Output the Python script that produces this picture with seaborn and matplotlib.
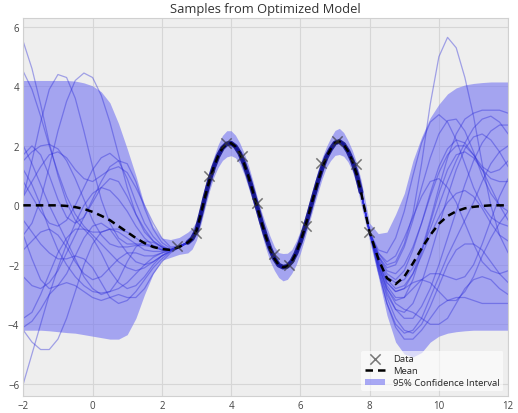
import matplotlib
matplotlib.use("Agg")
import matplotlib.pyplot as plt
import seaborn as sns
import numpy as np
import pandas as pd

# ---------------- data ----------------
x_left = [-2, -1.75, -1.5, -1.25, -1, -0.75, -0.5, -0.25, 0, 0.25, 0.5, 0.75,
          1, 1.25, 1.5, 1.75, 2, 2.25, 2.5, 2.75]
x_mid = [2.75, 2.875, 3.0, 3.125, 3.25, 3.375, 3.5, 3.625, 3.75, 3.875, 4.0,
         4.125, 4.25, 4.375, 4.5, 4.625, 4.75, 4.875, 5.0, 5.125, 5.25, 5.375,
         5.5, 5.625, 5.75, 5.875, 6.0, 6.125, 6.25, 6.375, 6.5, 6.625, 6.75,
         6.875, 7.0, 7.125, 7.25, 7.375, 7.5, 7.625, 7.75]
x_right = [7.75, 8.0, 8.25, 8.5, 8.75, 9.0, 9.25, 9.5, 9.75, 10.0, 10.25, 10.5,
           10.75, 11.0, 11.25, 11.5, 11.75, 12.0]

mean_left = [0, 0, 0, 0, 0, -0.02, -0.06, -0.12, -0.22, -0.35, -0.5, -0.7,
             -0.9, -1.1, -1.27, -1.4, -1.47, -1.5, -1.4, -1.25]
mean_mid = [-1.25, -1.12, -0.85, -0.3, 0.3, 0.84, 1.29, 1.66, 1.93, 2.07, 2.09,
            1.98, 1.75, 1.4, 0.97, 0.48, -0.04, -0.56, -1.04, -1.46, -1.79,
            -2.01, -2.08, -2.05, -1.89, -1.61, -1.23, -0.77, -0.26, 0.27, 0.78,
            1.24, 1.62, 1.89, 2.1, 2.15, 2.05, 1.82, 1.5, 1.05, 0.45]
mean_right = [0.45, -0.9, -1.8, -2.45, -2.65, -2.4, -1.95, -1.45, -1.0, -0.62,
              -0.36, -0.2, -0.1, -0.05, -0.02, 0, 0, 0]

upper_left = [4.2, 4.2, 4.2, 4.2, 4.2, 4.2, 4.18, 4.12, 4.02, 3.82, 3.45, 2.75,
              1.9, 1.0, 0.0, -0.7, -1.1, -1.15, -1.08, -0.9]
lower_left = [-4.2, -4.2, -4.2, -4.22, -4.25, -4.28, -4.3, -4.35, -4.4, -4.45,
              -4.5, -4.5, -4.35, -3.8, -3.0, -2.3, -1.85, -1.75, -1.65, -1.6]
halfwidth_mid = [0.35, 0.35, 0.32, 0.35, 0.38, 0.36, 0.34, 0.38, 0.42, 0.44,
                 0.42, 0.38, 0.35, 0.36, 0.38, 0.36, 0.33, 0.36, 0.4, 0.42,
                 0.4, 0.42, 0.46, 0.44, 0.4, 0.4, 0.38, 0.36, 0.35, 0.36,
                 0.38, 0.36, 0.35, 0.38, 0.42, 0.44, 0.4, 0.36, 0.35, 0.38, 0.42]
upper_right = [0.9, -0.6, -0.95, -0.9, -0.3, 0.4, 1.5, 2.3, 2.95, 3.4, 3.75,
               3.95, 4.05, 4.1, 4.13, 4.15, 4.15, 4.15]
lower_right = [0.0, -1.2, -2.4, -3.7, -4.6, -5.0, -5.1, -4.95, -4.6, -4.4, -4.3,
               -4.25, -4.22, -4.2, -4.2, -4.2, -4.2, -4.2]

data_x = [2.45, 2.98, 3.36, 3.85, 4.31, 4.74, 5.23, 5.67, 6.16, 6.59, 7.05, 7.6, 7.97]
data_y = [-1.38, -0.94, 0.98, 2.09, 1.65, 0.07, -1.62, -1.99, -0.71, 1.41, 2.15, 1.38, -0.88]

samples_left = [
    [5.5, 4.6, 3.4, 2.1, 1.0, 0.1, -0.5, -0.8, -0.9, -0.9, -0.8, -0.8, -0.9, -1.1, -1.3, -1.4, -1.5, -1.5, -1.38, -1.25],
    [4.5, 3.9, 3.0, 2.0, 1.1, 0.3, -0.3, -0.7, -1.0, -1.3, -1.6, -1.9, -2.1, -2.2, -2.1, -1.9, -1.7, -1.55, -1.42, -1.25],
    [0.3, 1.5, 2.8, 3.9, 4.4, 4.3, 3.6, 2.5, 1.3, 0.2, -0.6, -1.1, -1.3, -1.3, -1.3, -1.35, -1.45, -1.5, -1.38, -1.25],
    [-1.0, -0.6, 0.2, 1.3, 2.5, 3.5, 4.2, 4.45, 4.3, 3.7, 2.8, 1.7, 0.6, -0.3, -0.9, -1.2, -1.4, -1.5, -1.38, -1.25],
    [-6.0, -5.0, -4.0, -3.0, -2.1, -1.3, -0.6, 0.0, 0.4, 0.6, 0.5, 0.2, -0.2, -0.7, -1.1, -1.35, -1.5, -1.5, -1.38, -1.25],
    [-4.2, -4.6, -4.85, -4.85, -4.5, -3.8, -2.9, -2.0, -1.3, -0.9, -0.8, -0.9, -1.1, -1.3, -1.5, -1.55, -1.55, -1.5, -1.4, -1.25],
    [-1.0, -1.8, -2.5, -2.8, -2.7, -2.3, -1.7, -1.1, -0.7, -0.6, -0.8, -1.2, -1.6, -1.9, -2.0, -1.9, -1.7, -1.55, -1.42, -1.25],
    [1.2, 0.7, 0.0, -0.8, -1.5, -2.0, -2.4, -2.7, -2.9, -2.95, -2.9, -2.8, -2.6, -2.3, -2.0, -1.75, -1.6, -1.5, -1.4, -1.25],
    [-0.5, -0.9, -1.3, -1.6, -1.8, -1.8, -1.7, -1.8, -2.1, -2.6, -3.1, -3.3, -3.2, -2.9, -2.5, -2.1, -1.8, -1.55, -1.42, -1.25],
    [1.5, 1.8, 2.0, 2.05, 1.9, 1.5, 0.9, 0.2, -0.5, -1.0, -1.3, -1.4, -1.4, -1.35, -1.35, -1.4, -1.5, -1.5, -1.38, -1.25],
    [0.8, 0.3, -0.2, -0.6, -0.7, -0.5, 0.0, 0.6, 1.2, 1.6, 1.75, 1.5, 0.9, 0.1, -0.6, -1.05, -1.35, -1.5, -1.38, -1.25],
    [-2.4, -2.7, -2.8, -2.6, -2.2, -1.6, -1.0, -0.4, 0.2, 0.8, 1.3, 1.5, 1.4, 0.8, -0.1, -0.8, -1.25, -1.45, -1.38, -1.25],
    [-3.8, -3.6, -3.0, -2.3, -1.6, -1.1, -0.8, -0.8, -1.1, -1.6, -2.2, -2.6, -2.8, -2.7, -2.4, -2.0, -1.7, -1.5, -1.4, -1.25],
    [2.0, 1.4, 0.7, 0.0, -0.6, -1.2, -1.8, -2.4, -2.8, -3.0, -2.9, -2.5, -1.9, -1.4, -1.2, -1.25, -1.4, -1.5, -1.38, -1.25],
    [0.3, 0.8, 1.3, 1.7, 1.8, 1.6, 1.2, 0.9, 0.8, 1.0, 1.2, 1.3, 1.1, 0.6, 0.0, -0.6, -1.1, -1.4, -1.38, -1.25],
    [-1.5, -1.2, -0.9, -0.8, -1.0, -1.4, -1.9, -2.3, -2.5, -2.4, -2.1, -1.8, -1.6, -1.6, -1.7, -1.7, -1.6, -1.5, -1.42, -1.25],
    [-4.1, -3.9, -3.5, -3.0, -2.7, -2.6, -2.7, -2.9, -3.1, -3.2, -3.1, -3.0, -3.1, -3.1, -2.8, -2.3, -1.9, -1.6, -1.42, -1.25],
    [1.7, 2.0, 1.7, 1.0, 0.2, -0.4, -0.6, -0.4, 0.1, 0.6, 0.9, 0.8, 0.3, -0.3, -0.8, -1.2, -1.4, -1.5, -1.38, -1.25],
]

samples_right = [
    [0.45, -0.9, -1.6, -2.0, -1.9, -1.3, -0.3, 1.4, 3.4, 5.0, 5.65, 5.3, 4.3, 3.0, 1.4, 0.0, -1.0, -1.6],
    [0.45, -0.9, -1.5, -1.6, -1.1, -0.2, 1.0, 2.1, 2.8, 3.05, 2.8, 2.2, 1.4, 0.6, 0.0, -0.4, -0.6, -0.7],
    [0.45, -0.9, -1.7, -2.1, -2.0, -1.4, -0.5, 0.6, 1.6, 2.4, 2.85, 2.9, 2.5, 1.8, 1.0, 0.4, 0.0, -0.2],
    [0.45, -0.9, -1.9, -2.6, -2.9, -2.8, -2.3, -1.5, -0.5, 0.6, 1.6, 2.4, 2.9, 3.1, 3.2, 3.2, 3.2, 3.1],
    [0.45, -0.9, -1.8, -2.4, -2.6, -2.5, -2.1, -1.5, -0.8, 0.0, 0.8, 1.5, 2.1, 2.6, 2.9, 3.0, 2.8, 2.4],
    [0.45, -0.9, -2.0, -2.9, -3.5, -3.8, -3.8, -3.4, -2.8, -2.0, -1.1, -0.2, 0.7, 1.5, 2.1, 2.5, 2.7, 2.7],
    [0.45, -0.9, -1.7, -2.2, -2.3, -2.0, -1.4, -0.6, 0.3, 1.1, 1.7, 2.0, 2.0, 1.7, 1.2, 0.6, 0.0, -0.5],
    [0.45, -0.9, -2.1, -3.1, -3.8, -4.2, -4.3, -4.0, -3.4, -2.7, -2.0, -1.5, -1.3, -1.3, -1.5, -1.9, -2.3, -2.6],
    [0.45, -0.9, -2.2, -3.3, -4.1, -4.5, -4.5, -4.2, -3.8, -3.4, -3.2, -3.1, -3.1, -3.2, -3.3, -3.3, -3.3, -3.3],
    [0.45, -0.9, -1.9, -2.7, -3.1, -3.1, -2.8, -2.5, -2.3, -2.3, -2.4, -2.5, -2.4, -2.0, -1.3, -0.5, 0.3, 0.9],
    [0.45, -0.9, -1.8, -2.5, -2.8, -2.7, -2.3, -1.7, -1.0, -0.4, 0.1, 0.4, 0.5, 0.3, -0.1, -0.6, -1.0, -1.2],
    [0.45, -0.9, -2.0, -2.8, -3.2, -3.1, -2.5, -1.6, -0.6, 0.4, 1.2, 1.7, 1.8, 1.6, 1.2, 0.9, 0.8, 0.8],
    [0.45, -0.9, -1.6, -1.9, -1.7, -1.1, -0.4, 0.3, 0.8, 0.9, 0.6, 0.1, -0.6, -1.3, -1.9, -2.2, -2.3, -2.2],
    [0.45, -0.9, -2.1, -3.0, -3.5, -3.6, -3.3, -2.6, -1.7, -0.7, 0.3, 1.2, 1.9, 2.3, 2.4, 2.2, 1.8, 1.3],
    [0.45, -0.9, -1.9, -2.6, -2.9, -2.8, -2.6, -2.5, -2.6, -2.9, -3.2, -3.2, -2.9, -2.4, -1.7, -1.1, -0.6, -0.2],
    [0.45, -0.9, -2.2, -3.3, -4.0, -4.3, -4.2, -3.8, -3.1, -2.4, -1.7, -1.1, -0.5, 0.1, 0.8, 1.4, 1.8, 2.0],
    [0.45, -0.9, -1.7, -2.3, -2.5, -2.2, -1.5, -0.6, 0.4, 1.3, 1.9, 2.2, 2.1, 1.7, 1.3, 1.1, 1.2, 1.5],
    [0.45, -0.9, -2.0, -2.8, -3.3, -3.5, -3.6, -3.8, -4.0, -4.0, -3.8, -3.3, -2.8, -2.5, -2.4, -2.5, -2.8, -3.0],
]

title = "Samples from Optimized Model"
x_ticks = [-2, 0, 2, 4, 6, 8, 10, 12]
y_ticks = [-6, -4, -2, 0, 2, 4, 6]

# ---------------- assemble ----------------
x_all = x_left[:-1] + x_mid + x_right[1:]
mean_all = mean_left[:-1] + mean_mid + mean_right[1:]
upper_mid = [m + h for m, h in zip(mean_mid, halfwidth_mid)]
lower_mid = [m - h for m, h in zip(mean_mid, halfwidth_mid)]
upper_all = upper_left[:-1] + upper_mid + upper_right[1:]
lower_all = lower_left[:-1] + lower_mid + lower_right[1:]

rows = []
for i, (sl, sr) in enumerate(zip(samples_left, samples_right)):
    ys = sl[:-1] + mean_mid + sr[1:]
    for xv, yv in zip(x_all, ys):
        rows.append({"x": xv, "y": yv, "sample": i})
df_samples = pd.DataFrame(rows)
df_mean = pd.DataFrame({"x": x_all, "y": mean_all})
df_data = pd.DataFrame({"x": data_x, "y": data_y})

# ---------------- style ----------------
sns.set_theme(style="whitegrid")
plt.rcParams.update({
    "axes.facecolor": "#eeeeee",
    "figure.facecolor": "white",
    "axes.edgecolor": "#d0d0d0",
    "grid.color": "#d6d6d6",
    "grid.linewidth": 0.8,
    "xtick.color": "#444444",
    "ytick.color": "#444444",
})
plt.rcParams["font.family"] = ["Open Sans", "DejaVu Sans"]

fig = plt.figure(figsize=(5.18, 4.14), dpi=100)
ax = fig.add_axes([0.045, 0.042, 0.936, 0.912])

# confidence interval
ax.fill_between(x_all, lower_all, upper_all, color="#7474f2", alpha=0.6,
                linewidth=0, label="95% Confidence Interval", zorder=1)

# samples
sns.lineplot(data=df_samples, x="x", y="y", units="sample", estimator=None,
             color="#2a2ad8", alpha=0.4, linewidth=0.9, ax=ax, legend=False,
             zorder=2)
# dense overlap of samples in the well-constrained middle region
sns.lineplot(x=x_mid, y=mean_mid, color="#12128a", linewidth=3.4, alpha=0.9,
             ax=ax, legend=False, zorder=3)

# mean
sns.lineplot(data=df_mean, x="x", y="y", color="black", linewidth=1.8,
             linestyle=(0, (3, 2)), ax=ax, label="Mean", zorder=4)

# data
sns.scatterplot(data=df_data, x="x", y="y", marker="x", s=55, color="#333333",
                alpha=0.65, linewidth=1.1, ax=ax, label="Data", zorder=5)

ax.set_xlim(-2, 12)
ax.set_ylim(-6.4, 6.3)
ax.set_xticks(x_ticks)
ax.set_yticks(y_ticks)
ax.set_xlabel("")
ax.set_ylabel("")
ax.tick_params(axis="both", labelsize=7, length=2, direction="in", pad=3,
               colors="#444444")
ax.set_title(title, fontsize=9.3, color="#333333", pad=4)
for s in ax.spines.values():
    s.set_color("#d0d0d0")
    s.set_linewidth(0.8)

handles, labels = ax.get_legend_handles_labels()
order = [labels.index("Data"), labels.index("Mean"), labels.index("95% Confidence Interval")]
leg = ax.legend([handles[i] for i in order], [labels[i] for i in order],
                loc="lower right", fontsize=6.8, frameon=True, framealpha=0.6,
                edgecolor="none", facecolor="white", borderpad=0.4,
                handlelength=2.2, labelspacing=0.3)

fig.savefig("out.png", dpi=100)
